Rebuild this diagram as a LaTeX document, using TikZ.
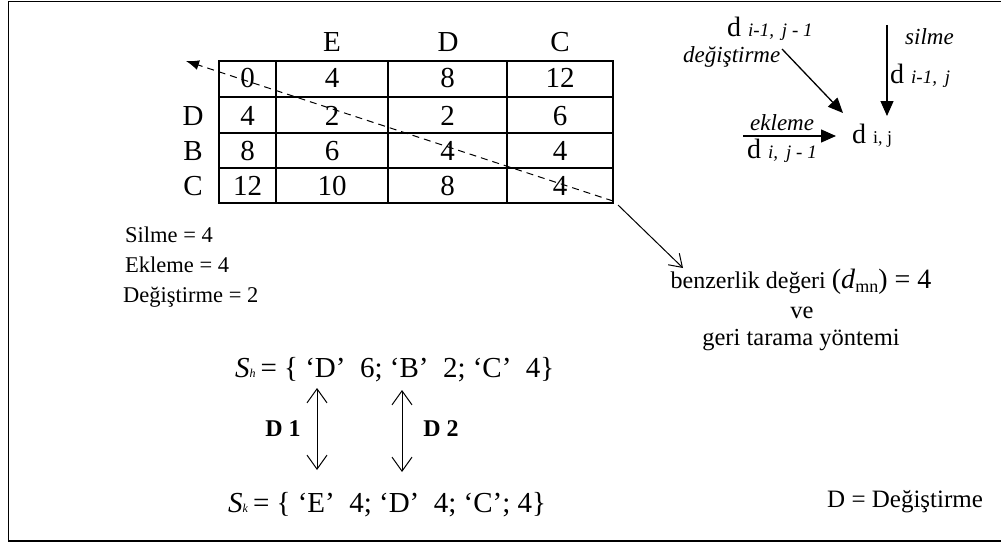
\documentclass[tikz,border=0pt]{standalone}
\usepackage{fontspec}
\setmainfont{Liberation Serif}
\usetikzlibrary{arrows.meta}
\begin{document}
\begin{tikzpicture}[x=1pt,y=-1pt,
  tbl/.style={font=\fontsize{29}{32}\selectfont, anchor=base, inner sep=0pt},
  lbl/.style={font=\fontsize{22.5}{26}\selectfont, anchor=base west, inner sep=0pt},
  itl/.style={font=\fontsize{23}{26}\selectfont\itshape, anchor=base west, inner sep=0pt},
  dnode/.style={font=\fontsize{28}{30}\selectfont, anchor=base west, inner sep=0pt},
  setn/.style={font=\fontsize{29}{32}\selectfont, anchor=base west, inner sep=0pt},
  fillarrow/.style={line width=1.3pt, -{Triangle[length=15pt,width=13pt]}},
  openarrow/.style={line width=1pt, -{Straight Barb[length=12pt,width=16pt]}},
  dblarrow/.style={line width=1pt, {Straight Barb[length=14pt,width=20pt]}-{Straight Barb[length=14pt,width=20pt]}}
]
\useasboundingbox (0,0) rectangle (1001,543);
% frame
\draw[line width=1.2pt] (1003,1.5) -- (8.5,1.5) -- (8.5,541) -- (1003,541);

% table grid
\draw[line width=1.6pt] (219,61) rectangle (613,203);
\foreach \x in {276,388,507} \draw[line width=1.6pt] (\x,61) -- (\x,203);
\foreach \y in {97,133,168} \draw[line width=1.6pt] (219,\y) -- (613,\y);

% headers
\node[tbl] (hE) at (332,52) {E};
\node[tbl] (hD) at (448,52) {D};
\node[tbl] (hC) at (560,52) {C};
\node[tbl] (rD) at (193,125) {D};
\node[tbl] (rB) at (193,160) {B};
\node[tbl] (rC) at (193,195) {C};

% cells
\node[tbl] (c00) at (247.5,88) {0};
\node[tbl] (c01) at (332,88) {4};
\node[tbl] (c02) at (447.5,88) {8};
\node[tbl] (c03) at (560,88) {12};
\node[tbl] (c10) at (247.5,125) {4};
\node[tbl] (c11) at (332,125) {2};
\node[tbl] (c12) at (447.5,125) {2};
\node[tbl] (c13) at (560,125) {6};
\node[tbl] (c20) at (247.5,160) {8};
\node[tbl] (c21) at (332,160) {6};
\node[tbl] (c22) at (447.5,160) {4};
\node[tbl] (c23) at (560,160) {4};
\node[tbl] (c30) at (247.5,195) {12};
\node[tbl] (c31) at (332,195) {10};
\node[tbl] (c32) at (447.5,195) {8};
\node[tbl] (c33) at (560,195) {4};

% dashed backtrace arrow
\coordinate (ds) at (613,201);
\coordinate (de) at (186,61);
\draw[line width=1pt, dash pattern=on 7pt off 5pt, -{Latex[length=13pt,width=10pt]}] (ds) -- (de);

% result text
\node[font=\fontsize{24}{26}\selectfont, inner sep=0pt] (bz) at (801,282)
  {benzerlik değeri {\fontsize{28}{30}\selectfont(\textit{d}{\fontsize{18}{20}\selectfont\raisebox{-4pt}{mn}}) = 4}};
\node[font=\fontsize{24.5}{26}\selectfont, inner sep=0pt] (ve) at (802,313) {ve};
\node[font=\fontsize{24.5}{26}\selectfont, inner sep=0pt] (gt) at (801,340) {geri tarama yöntemi};
\coordinate (bs) at (618,205);
\coordinate (be) at (683,268);
\draw[openarrow] (bs) -- (be);

% left counts
\node[lbl] (sil) at (125,242) {Silme = 4};
\node[lbl] (ekl) at (125,272) {Ekleme = 4};
\node[lbl] (deg) at (123,302) {Değiştirme = 2};

% right recurrence diagram
\node[dnode] (dtl) at (727,37) {d {\fontsize{19}{20}\selectfont\itshape i-1,\, j - 1}};
\node[itl] (lbdeg) at (683,63) {değiştirme};
\node[itl] (lbsil) at (905,45) {silme};
\node[dnode] (dtop) at (890,83) {d {\fontsize{19}{20}\selectfont\itshape i-1,\, j}};
\node[itl] (lbekl) at (750,130) {ekleme};
\node[dnode] (dij) at (852,143) {d {\fontsize{18}{20}\selectfont i, j}};
\node[dnode] (dleft) at (747,158) {d {\fontsize{19}{20}\selectfont\itshape i,\, j - 1}};

\coordinate (a1s) at (782,49);
\coordinate (a1e) at (843,113);
\draw[fillarrow] (a1s) -- (a1e);
\coordinate (a2s) at (887,25);
\coordinate (a2e) at (887,116);
\draw[fillarrow] (a2s) -- (a2e);
\coordinate (a3s) at (743,136);
\coordinate (a3e) at (836,136);
\draw[fillarrow] (a3s) -- (a3e);

% sequences
\node[setn] (sh) at (235,377) {\textit{S}{\fontsize{12}{12}\selectfont\textit{h}}\,= \{ ‘D’~~6; ‘B’~~2; ‘C’~~4\}};
\node[setn] (sk) at (228,512) {\textit{S}{\fontsize{12}{12}\selectfont\textit{k}}\,= \{ ‘E’~~4; ‘D’~~4; ‘C’; 4\}};

\coordinate (d1t) at (317,388);
\coordinate (d1b) at (317,470);
\draw[dblarrow] (d1t) -- (d1b);
\coordinate (d2t) at (402,390);
\coordinate (d2b) at (402,472);
\draw[dblarrow] (d2t) -- (d2b);
\node[font=\fontsize{24}{26}\selectfont\bfseries, inner sep=0pt] (D1) at (283,429) {D 1};
\node[font=\fontsize{24}{26}\selectfont\bfseries, inner sep=0pt] (D2) at (441,429) {D 2};

\node[font=\fontsize{25}{28}\selectfont, anchor=base west, inner sep=0pt] (leg) at (827,507) {D = Değiştirme};
\end{tikzpicture}
\end{document}
